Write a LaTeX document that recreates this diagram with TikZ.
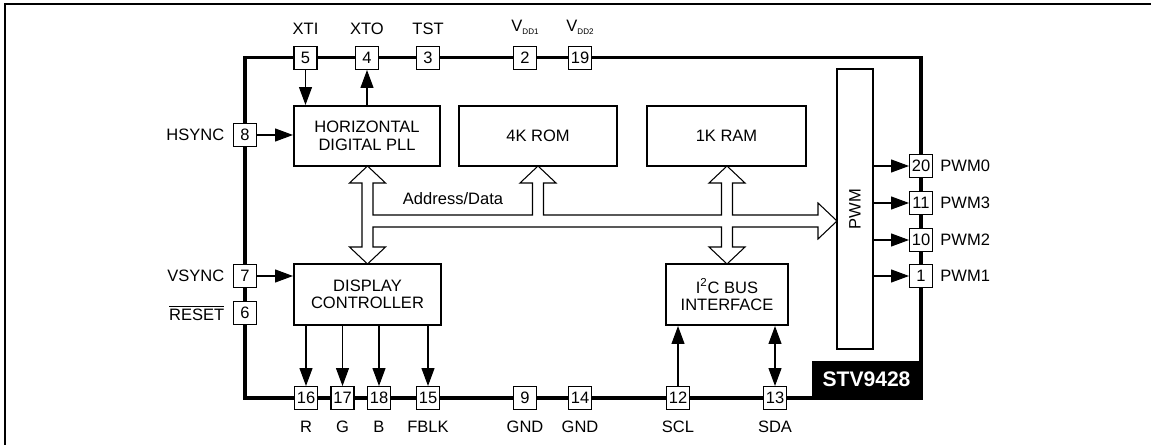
\documentclass[tikz,border=0pt]{standalone}
\usepackage{fontspec}
\setmainfont{Liberation Sans}
\usetikzlibrary{arrows.meta}
\newcommand{\vddsub}[1]{V\raisebox{-1.6pt}{\fontsize{4.6}{5}\selectfont DD#1}}

\begin{document}
\begin{tikzpicture}[x=0.02cm,y=-0.02cm,
    font=\fontsize{9.4}{9.9}\selectfont,
    pinbox/.style={draw,line width=0.6pt,fill=white,minimum size=0.46cm,inner sep=0pt},
    blk/.style={draw,line width=1.2pt,fill=white,align=center,inner sep=0pt},
    lbl/.style={inner sep=0pt},
    sig/.style={line width=0.6pt,-{Triangle[length=10.2pt,width=7.4pt]}},
    sigboth/.style={line width=0.6pt,{Triangle[length=10.2pt,width=7.4pt]}-{Triangle[length=10.2pt,width=7.4pt]}}]
            \useasboundingbox (0,0) rectangle (1151,445);
            \draw[line width=1.1pt] (5,445) -- (5,4) -- (1151,4);
            \draw[line width=1.9pt] (245,57.5) rectangle (921,398);
            \node[fill=black,text=white,font=\bfseries\fontsize{12}{12}\selectfont,minimum width=2.2cm,minimum height=0.76cm,inner sep=0pt] at (866.5,379.5) (chipname) {STV9428};
            % blocks
            \node[blk,minimum width=2.92cm,minimum height=1.2cm] at (367,136) (hpll) {HORIZONTAL\\DIGITAL PLL};
            \node[blk,minimum width=3.16cm,minimum height=1.2cm] at (538,136) (rom) {4K ROM};
            \node[blk,minimum width=3.18cm,minimum height=1.2cm] at (726.5,136) (ram) {1K RAM};
            \node[blk,minimum width=2.94cm,minimum height=1.22cm] at (367.5,294.5) (disp) {DISPLAY\\CONTROLLER};
            \node[blk,minimum width=2.44cm,minimum height=1.22cm] at (727,294.5) (i2c) {I\textsuperscript{2}C BUS\\INTERFACE};
            \node[blk,minimum width=0.72cm,minimum height=5.6cm] at (855,209) (pwm) {\rotatebox{90}{PWM}};
            % address/data bus
            \draw[line width=0.6pt,fill=white] (362,183) -- (349.5,183) -- (367.5,166) -- (385.5,183) -- (373,183) -- (373,215)
              -- (532.5,215) -- (532.5,183) -- (520,183) -- (538,166) -- (556,183) -- (543.5,183) -- (543.5,215)
              -- (721.5,215) -- (721.5,183) -- (709,183) -- (727,166) -- (745,183) -- (732.5,183) -- (732.5,215)
              -- (818,215) -- (818,203) -- (837,221) -- (818,239) -- (818,227) -- (732.5,227) -- (732.5,247)
              -- (745,247) -- (727,264) -- (709,247) -- (721.5,247) -- (721.5,227) -- (373,227) -- (373,247)
              -- (385.5,247) -- (367.5,264) -- (349.5,247) -- (362,247) -- cycle;
            \node[lbl] at (453,199) (addr) {Address/Data};
            % pins
            \node[pinbox,label={[lbl,label distance=6.5pt]90:XTI}] at (305.5,58) (p5) {5};
            \node[pinbox,label={[lbl,label distance=6.5pt]90:XTO}] at (367,58) (p4) {4};
            \node[pinbox,label={[lbl,label distance=6.5pt]90:TST}] at (428,58) (p3) {3};
            \node[pinbox,label={[lbl,label distance=6.5pt]90:\vddsub{1}}] at (525,58) (p2) {2};
            \node[pinbox,label={[lbl,label distance=6.5pt]90:\vddsub{2}}] at (580,58) (p19) {19};
            \node[pinbox,label={[lbl,label distance=4.8pt]180:HSYNC}] at (245,135) (p8) {8};
            \node[pinbox,label={[lbl,label distance=4.8pt]180:VSYNC}] at (245,276) (p7) {7};
            \node[pinbox,label={[lbl,label distance=4.8pt]180:$\overline{\mbox{RESET}}$}] at (245,313) (p6) {6};
            \node[pinbox,label={[lbl,label distance=6pt]-90:R}] at (306,398) (p16) {16};
            \node[pinbox,label={[lbl,label distance=6pt]-90:G}] at (342.5,398) (p17) {17};
            \node[pinbox,label={[lbl,label distance=6pt]-90:B}] at (379,398) (p18) {18};
            \node[pinbox,label={[lbl,label distance=6pt]-90:FBLK}] at (428,398) (p15) {15};
            \node[pinbox,label={[lbl,label distance=6pt]-90:GND}] at (525,398) (p9) {9};
            \node[pinbox,label={[lbl,label distance=6pt]-90:GND}] at (580,398) (p14) {14};
            \node[pinbox,label={[lbl,label distance=6pt]-90:SCL}] at (678,398) (p12) {12};
            \node[pinbox,label={[lbl,label distance=6pt]-90:SDA}] at (775,398) (p13) {13};
            \node[pinbox,label={[lbl,label distance=4pt]0:PWM0}] at (921,166) (p20) {20};
            \node[pinbox,label={[lbl,label distance=4pt]0:PWM3}] at (921,203) (p11) {11};
            \node[pinbox,label={[lbl,label distance=4pt]0:PWM2}] at (921,240) (p10) {10};
            \node[pinbox,label={[lbl,label distance=4pt]0:PWM1}] at (921,276) (p1) {1};
            % signals
            \draw[sig] (p5) -- (p5 |- hpll.north);
            \draw[sig] (p4 |- hpll.north) -- (p4);
            \draw[sig] (p8) -- (hpll.west |- p8);
            \draw[sig] (p7) -- (disp.west |- p7);
            \draw[sig] (p16 |- disp.south) -- (p16);
            \draw[sig] (p17 |- disp.south) -- (p17);
            \draw[sig] (p18 |- disp.south) -- (p18);
            \draw[sig] (p15 |- disp.south) -- (p15);
            \draw[sig] (p12) -- (p12 |- i2c.south);
            \draw[sigboth] (p13 |- i2c.south) -- (p13);
            \draw[sig] (p20 -| pwm.east) -- (p20);
            \draw[sig] (p11 -| pwm.east) -- (p11);
            \draw[sig] (p10 -| pwm.east) -- (p10);
            \draw[sig] (p1 -| pwm.east) -- (p1);
          \end{tikzpicture}
\end{document}
